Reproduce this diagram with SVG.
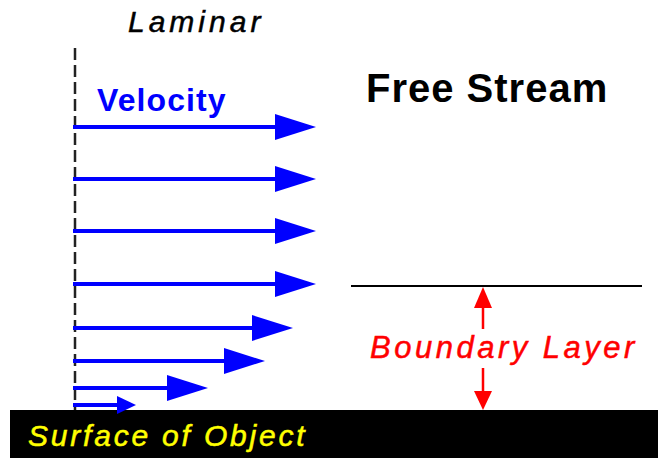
<svg xmlns="http://www.w3.org/2000/svg" width="658" height="458" viewBox="0 0 658 458">
<style>
.vel{stroke:#0000ff;stroke-width:4;fill:none}
.head{fill:#0000ff}
.bl{stroke:#ff0000;stroke-width:2.5;fill:none}
.rhead{fill:#ff0000}
text{font-family:"Liberation Sans",Arial,sans-serif}
</style>
<rect width="658" height="458" fill="#ffffff"/>
<g id="surface">
<rect x="10" y="410" width="648" height="48" fill="#000000"/>
<text x="28" y="446" font-size="30" font-style="italic" fill="#ffff00" stroke="#ffff00" stroke-width="0.5" letter-spacing="2.8">Surface of Object</text>
</g>
<g id="laminar-line">
<line x1="75" y1="48" x2="75" y2="410" stroke="#222222" stroke-width="2.5" stroke-dasharray="12,5"/>
</g>
<g id="labels">
<text x="128" y="32" font-size="30" font-style="italic" fill="#000000" stroke="#000000" stroke-width="0.5" letter-spacing="4">Laminar</text>
<text x="97" y="111" font-size="32" font-weight="bold" fill="#0000ff" letter-spacing="1.1">Velocity</text>
<text x="366" y="102" font-size="40" font-weight="bold" fill="#000000" letter-spacing="1">Free Stream</text>
<text x="370" y="358" font-size="31" font-style="italic" fill="#ff0000" stroke="#ff0000" stroke-width="0.5" letter-spacing="3.5">Boundary Layer</text>
</g>
<g id="connectors">
<line x1="73" y1="127" x2="278" y2="127" class="vel"/><polygon class="head" points="275,114 316,127 275,140"/>
<line x1="73" y1="179" x2="278" y2="179" class="vel"/><polygon class="head" points="275,166 316,179 275,192"/>
<line x1="73" y1="231" x2="278" y2="231" class="vel"/><polygon class="head" points="275,218 316,231 275,244"/>
<line x1="73" y1="284" x2="278" y2="284" class="vel"/><polygon class="head" points="275,271 316,284 275,297"/>
<line x1="73" y1="328" x2="255" y2="328" class="vel"/><polygon class="head" points="252,315 293,328 252,341"/>
<line x1="73" y1="361" x2="227" y2="361" class="vel"/><polygon class="head" points="224,348 265,361 224,374"/>
<line x1="73" y1="388" x2="170" y2="388" class="vel"/><polygon class="head" points="167,375 208,388 167,401"/>
<line x1="73" y1="405" x2="120" y2="405" class="vel"/><polygon class="head" points="117,396 136,405 117,414"/>
<line x1="351" y1="286" x2="642" y2="286" stroke="#000000" stroke-width="2"/>
<line x1="483" y1="305" x2="483" y2="329" class="bl"/><polygon class="rhead" points="483,287 492,308 474,308"/>
<line x1="483" y1="368" x2="483" y2="394" class="bl"/><polygon class="rhead" points="474,391 492,391 483,410"/>
</g>
</svg>
